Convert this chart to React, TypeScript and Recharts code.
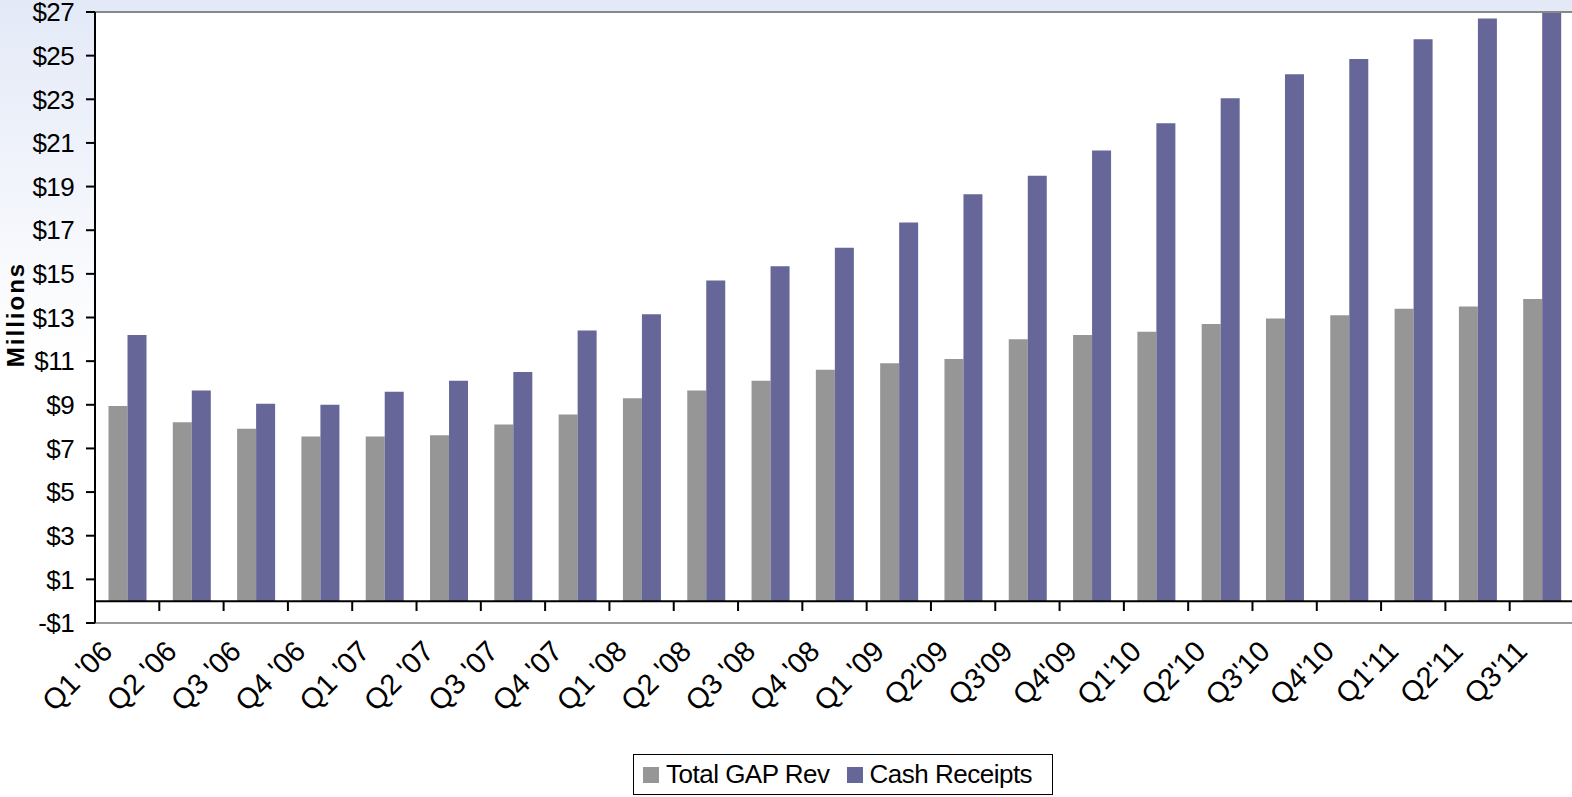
import * as React from "react"
import {
  BarChart, Bar, XAxis, YAxis, CartesianGrid, ReferenceLine, Legend
} from "recharts"

// ─── Data ────────────────────────────────────────────────────────────────────
const quarters = [
  "Q1 '06", "Q2 '06", "Q3 '06", "Q4 '06",
  "Q1 '07", "Q2 '07", "Q3 '07", "Q4 '07",
  "Q1 '08", "Q2 '08", "Q3 '08", "Q4 '08",
  "Q1 '09", "Q2'09", "Q3'09", "Q4'09",
  "Q1'10", "Q2'10", "Q3'10", "Q4'10",
  "Q1'11", "Q2'11", "Q3'11",
]
const totalGapRev = [
  8.95, 8.2, 7.9, 7.55, 7.55, 7.6, 8.1, 8.55, 9.3, 9.65, 10.1, 10.6,
  10.9, 11.1, 12.0, 12.2, 12.35, 12.7, 12.95, 13.1, 13.4, 13.5, 13.85,
]
const cashReceipts = [
  12.2, 9.65, 9.05, 9.0, 9.6, 10.1, 10.5, 12.4, 13.15, 14.7, 15.35, 16.2,
  17.35, 18.65, 19.5, 20.65, 21.9, 23.05, 24.15, 24.85, 25.75, 26.7, 27.0,
]
const yTicks = [-1, 1, 3, 5, 7, 9, 11, 13, 15, 17, 19, 21, 23, 25, 27]
const seriesOrder = ["gap", "cash"]

const rows = quarters.map((q, i) => ({
  quarter: q,
  gap: totalGapRev[i],
  cash: cashReceipts[i],
}))

const FONT = "Arial, 'Liberation Sans', sans-serif"
const GRAY = "#969696"
const PURPLE = "#666699"

// ─── Axis pieces ─────────────────────────────────────────────────────────────
function QuarterTick({ x, y, payload }: any) {
  return (
    <g transform={`translate(${x - 13},${y + 30})`}>
      <text
        transform="rotate(-45)"
        textAnchor="end"
        fontSize={29}
        fontFamily={FONT}
        fill="#000"
      >
        {payload.value}
      </text>
    </g>
  )
}

function MillionsLabel({ viewBox }: any) {
  const cy = viewBox.y + viewBox.height / 2 - 3
  return (
    <text
      transform={`translate(24,${cy}) rotate(-90)`}
      textAnchor="middle"
      fontSize={24}
      fontWeight="bold"
      letterSpacing={2}
      fontFamily={FONT}
      fill="#000"
    >
      Millions
    </text>
  )
}

function LegendBox({ payload }: any) {
  return (
    <div
      style={{
        boxSizing: "border-box",
        height: 41,
        border: "1px solid #000",
        background: "#fff",
        display: "flex",
        alignItems: "center",
        paddingLeft: 9,
        fontFamily: FONT,
        fontSize: 26,
        letterSpacing: -0.5,
        color: "#000",
        whiteSpace: "nowrap",
      }}
    >
      {(payload || []).map((p: any, i: number) => (
        <span key={p.value} style={{ display: "flex", alignItems: "center", marginLeft: i ? 17 : 0 }}>
          <span style={{ width: 16, height: 16, background: p.color, marginRight: 7, display: "inline-block" }} />
          {p.value}
        </span>
      ))}
    </div>
  )
}

// ─── Chart ───────────────────────────────────────────────────────────────────
export default function App() {
  return (
    <div
      style={{
        position: "fixed",
        left: 0,
        top: 0,
        width: 1572,
        height: 797,
        overflow: "hidden",
        background: "linear-gradient(to bottom, #e3e9f7 0%, #ffffff 45%)",
      }}
    >
      <BarChart
        width={1574}
        height={797}
        data={rows}
        margin={{ top: 12, right: 0, left: 0, bottom: 2 }}
        barGap={0}
        barCategoryGap="21%"
      >
        <CartesianGrid horizontal={false} vertical={false} fill="#fff" />
        <XAxis
          dataKey="quarter"
          interval={0}
          height={131}
          tickLine={false}
          tickSize={0}
          tickMargin={0}
          axisLine={{ stroke: "#999", strokeWidth: 2 }}
          tick={<QuarterTick />}
        />
        <YAxis
          width={95}
          domain={[-1, 27]}
          ticks={yTicks}
          interval={0}
          allowDataOverflow
          tickSize={9}
          tickMargin={12}
          axisLine={{ stroke: "#000", strokeWidth: 2 }}
          tickLine={{ stroke: "#000", strokeWidth: 2 }}
          tick={{ fontSize: 26, letterSpacing: -0.6, fontFamily: FONT, fill: "#000" }}
          tickFormatter={(v: number) => (v < 0 ? `-$${-v}` : `$${v}`)}
          label={<MillionsLabel />}
        />
        <ReferenceLine y={27} stroke="#888" strokeWidth={2} />
        <Bar dataKey="gap" name="Total GAP Rev" fill={GRAY} isAnimationActive={false} />
        <Bar dataKey="cash" name="Cash Receipts" fill={PURPLE} isAnimationActive={false} />
        <ReferenceLine y={0} stroke="#000" strokeWidth={2} />
        {quarters.slice(1).map((q) => (
          <ReferenceLine
            key={q}
            position="start"
            segment={[{ x: q, y: 0 }, { x: q, y: -0.45 }]}
            stroke="#000"
            strokeWidth={2}
          />
        ))}
        <Legend
          verticalAlign="bottom"
          content={<LegendBox />}
          itemSorter={(item: any) => seriesOrder.indexOf(item.dataKey)}
          wrapperStyle={{ left: 633, width: 420 }}
        />
      </BarChart>
    </div>
  )
}
